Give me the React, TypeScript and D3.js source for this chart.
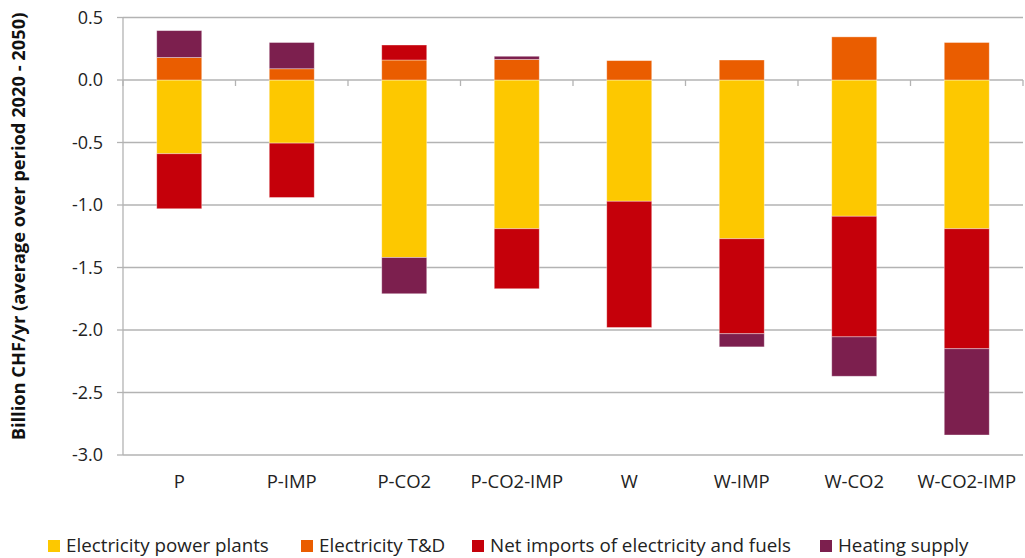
import React, { useEffect, useRef } from "react";
import * as d3 from "d3";

const categories = ["P", "P-IMP", "P-CO2", "P-CO2-IMP", "W", "W-IMP", "W-CO2", "W-CO2-IMP"];
const seriesNames = [
  "Electricity power plants",
  "Electricity T&D",
  "Net imports of electricity and fuels",
  "Heating supply",
];
const powerPlants = [-0.59, -0.505, -1.42, -1.19, -0.97, -1.27, -1.09, -1.19];
const transmission = [0.18, 0.09, 0.16, 0.165, 0.155, 0.16, 0.345, 0.3];
const netImports = [-0.44, -0.435, 0.12, -0.48, -1.01, -0.76, -0.965, -0.96];
const heating = [0.215, 0.21, -0.29, 0.025, 0, -0.105, -0.315, -0.69];
const yTicks = [0.5, 0, -0.5, -1, -1.5, -2, -2.5, -3];
const colors = ["#FDC800", "#EA5D00", "#C5000A", "#7C1F4E"];

const W = 1025;
const H = 558;

const App: React.FC = () => {
  const svgRef = useRef<SVGSVGElement>(null);

  useEffect(() => {
    if (!svgRef.current) return;
    const svg = d3.select(svgRef.current).html("");
    const font = "'Open Sans', sans-serif";

    const plot = { left: 123, right: 1023, top: 17.5, bottom: 455 };

    const x = d3
      .scaleBand<string>()
      .domain(categories)
      .range([plot.left, plot.right])
      .paddingInner(0.6)
      .paddingOuter(0.3);

    const y = d3.scaleLinear().domain([-3, 0.5]).range([plot.bottom, plot.top]);

    // gridlines
    svg
      .append("g")
      .selectAll("line")
      .data(yTicks)
      .join("line")
      .attr("x1", plot.left)
      .attr("x2", plot.right)
      .attr("y1", (d) => y(d))
      .attr("y2", (d) => y(d))
      .attr("stroke", "#B3B3B3")
      .attr("stroke-width", 1.3);

    // y axis line + ticks
    svg
      .append("line")
      .attr("x1", plot.left)
      .attr("x2", plot.left)
      .attr("y1", y(0.5))
      .attr("y2", y(-3))
      .attr("stroke", "#B3B3B3")
      .attr("stroke-width", 1.3);
    svg
      .append("g")
      .selectAll("line")
      .data(yTicks)
      .join("line")
      .attr("x1", plot.left - 6)
      .attr("x2", plot.left)
      .attr("y1", (d) => y(d))
      .attr("y2", (d) => y(d))
      .attr("stroke", "#B3B3B3")
      .attr("stroke-width", 1.3);

    svg
      .append("g")
      .selectAll("text")
      .data(yTicks)
      .join("text")
      .attr("x", plot.left - 20)
      .attr("y", (d) => y(d))
      .attr("dy", "0.35em")
      .attr("text-anchor", "end")
      .attr("font-family", font)
      .attr("font-size", 18)
      .attr("fill", "#222")
      .text((d) => d3.format(".1f")(d).replace("−", "-"));

    // x ticks on zero line at band boundaries
    const step = x.step();
    const bounds = d3.range(categories.length + 1).map((i) => plot.left + i * step);
    svg
      .append("g")
      .selectAll("line")
      .data(bounds)
      .join("line")
      .attr("x1", (d) => d)
      .attr("x2", (d) => d)
      .attr("y1", y(0))
      .attr("y2", y(0) + 6)
      .attr("stroke", "#B3B3B3")
      .attr("stroke-width", 1.3);

    // stacked bars
    const rows = categories.map((c, i) => ({
      cat: c,
      s0: powerPlants[i],
      s1: transmission[i],
      s2: netImports[i],
      s3: heating[i],
    }));
    const stack = d3
      .stack<any>()
      .keys(["s0", "s1", "s2", "s3"])
      .offset(d3.stackOffsetDiverging);
    const layers = stack(rows);

    svg
      .append("g")
      .selectAll("g")
      .data(layers)
      .join("g")
      .attr("fill", (_, i) => colors[i])
      .selectAll("rect")
      .data((d) => d.filter((p) => p[1] !== p[0]))
      .join("rect")
      .attr("x", (d) => x(d.data.cat)!)
      .attr("width", x.bandwidth())
      .attr("y", (d) => y(Math.max(d[0], d[1])))
      .attr("height", (d) => Math.abs(y(d[0]) - y(d[1])))
      .attr("stroke", "rgba(255,255,255,0.45)")
      .attr("stroke-width", 0.8);

    // x labels
    svg
      .append("g")
      .selectAll("text")
      .data(categories)
      .join("text")
      .attr("x", (d) => x(d)! + x.bandwidth() / 2)
      .attr("y", 488)
      .attr("text-anchor", "middle")
      .attr("font-family", font)
      .attr("font-size", 18.5)
      .attr("fill", "#222")
      .text((d) => d);

    // y title
    svg
      .append("text")
      .attr("transform", `translate(25,${(10 + 443) / 2}) rotate(-90)`)
      .attr("text-anchor", "middle")
      .attr("font-family", font)
      .attr("font-size", 18.3)
      .attr("font-weight", "bold")
      .attr("fill", "#111")
      .text("Billion CHF/yr (average over period 2020 - 2050)");

    // legend
    const legendX = [48, 301, 472, 820];
    const legend = svg
      .append("g")
      .selectAll("g")
      .data(seriesNames)
      .join("g")
      .attr("transform", (_, i) => `translate(${legendX[i]},540)`);
    legend
      .append("rect")
      .attr("width", 12)
      .attr("height", 12)
      .attr("fill", (_, i) => colors[i]);
    legend
      .append("text")
      .attr("x", 18)
      .attr("y", 12)
      .attr("font-family", font)
      .attr("font-size", 18.8)
      .attr("fill", "#222")
      .text((d) => d);
  }, []);

  return (
    <svg
      ref={svgRef}
      width={W}
      height={H}
      style={{ position: "fixed", left: 0, top: 0, background: "#fff" }}
    />
  );
};

export default App;
